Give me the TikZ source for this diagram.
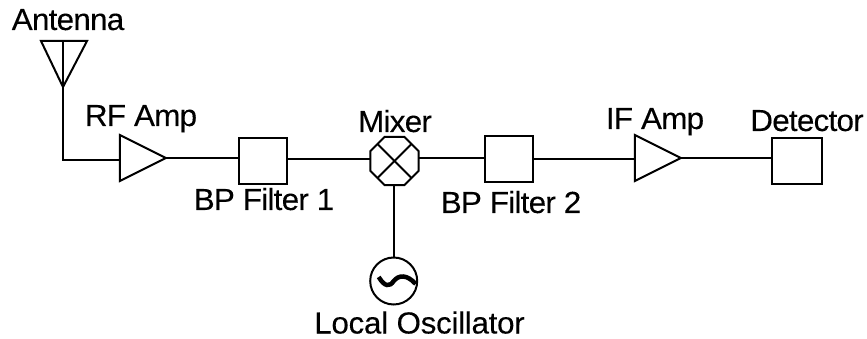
\documentclass[tikz,border=0pt]{standalone}
\usepackage{fontspec}
\setmainfont[FakeStretch=1.03,LetterSpace=-2.5,FakeBold=0.15]{Liberation Sans}
\newfontfamily\wideface[FakeStretch=1.03,LetterSpace=-1,FakeBold=0.15]{Liberation Sans}
\usetikzlibrary{shapes.geometric}
\tikzset{
  wire/.style={line width=2pt,line join=miter},
  lbl/.style={inner sep=0pt,outer sep=0pt,font=\fontsize{30.5}{30.5}\selectfont,anchor=base},
  boxn/.style={draw,line width=2pt,rectangle,minimum width=48pt,minimum height=46pt,inner sep=0pt,outer sep=0pt},
  ampn/.style={draw,line width=2pt,isosceles triangle,isosceles triangle stretches,shape border rotate=0,minimum width=46pt,minimum height=46pt,inner sep=0pt,outer sep=0pt},
  mixn/.style={draw,line width=2pt,regular polygon,regular polygon sides=8,minimum size=52pt,inner sep=0pt,outer sep=0pt},
  oscn/.style={draw,line width=2pt,circle,minimum size=47pt,inner sep=0pt,outer sep=0pt}
}
\begin{document}
\begin{tikzpicture}[x=1pt,y=-1pt]
\useasboundingbox (0,0) rectangle (867,339);
\fill[white] (0,0) rectangle (867,339);
% antenna
\coordinate (antL) at (41,41);
\coordinate (antR) at (87,41);
\coordinate (antTip) at (63,87);
\coordinate (antTop) at (63,41);
\coordinate (antBend) at (63,160);
\draw[wire] (antL) -- (antR) -- (antTip) -- cycle;
\draw[wire] (antTop) -- (antTip);
% blocks
\node[ampn] (amp1) at (134,158) {};
\node[boxn] (filt1) at (263,161) {};
\node[mixn] (mix) at (394.5,161) {};
\node[boxn] (filt2) at (508.5,159) {};
\node[ampn] (amp2) at (649,158) {};
\node[boxn,minimum width=50pt] (det) at (797,161) {};
\node[oscn] (osc) at (393.7,281) {};
% connectors
\draw[wire] (antTip) -- (antBend) -- (antBend -| amp1.lower side);
\draw[wire] (amp1.apex) -- (amp1.apex -| filt1.west);
\draw[wire] (filt1.east |- filt2.center) -- (mix.west |- filt2.center);
\draw[wire] (mix.east |- amp1.apex) -- (filt2.west |- amp1.apex);
\draw[wire] (filt2.east) -- (amp2.lower side |- filt2.east);
\draw[wire] (amp2.apex) -- (amp2.apex -| det.west);
\draw[wire] (osc.north |- mix.south) -- (osc.north);
% mixer cross
\draw[wire] (mix.45) -- (mix.225);
\draw[wire] (mix.135) -- (mix.-45);
% tilde
\draw[line width=4.5pt] ([xshift=-15pt,yshift=4pt]osc.center) .. controls ([xshift=-9pt,yshift=-6pt]osc.center) and ([xshift=-4pt,yshift=-6pt]osc.center) .. ([yshift=0pt]osc.center) .. controls ([xshift=5pt,yshift=6pt]osc.center) and ([xshift=13pt,yshift=7pt]osc.center) .. ([xshift=22pt,yshift=-3pt]osc.center);
% labels
\node[lbl] (tAnt) at (68,30) {Antenna};
\node[lbl] (tRF) at (141,126) {RF Amp};
\node[lbl] (tF1) at (264,210) {BP Filter 1};
\node[lbl] (tMix) at (395,132) {Mixer};
\node[lbl] (tF2) at (511,213) {BP Filter 2};
\node[lbl] (tIF) at (655,129) {IF Amp};
\node[lbl] (tDet) at (807,131) {Detector};
\node[lbl,font=\fontsize{30.5}{30.5}\wideface] (tOsc) at (419.5,333.5) {Local Oscillator};
\end{tikzpicture}
\end{document}
